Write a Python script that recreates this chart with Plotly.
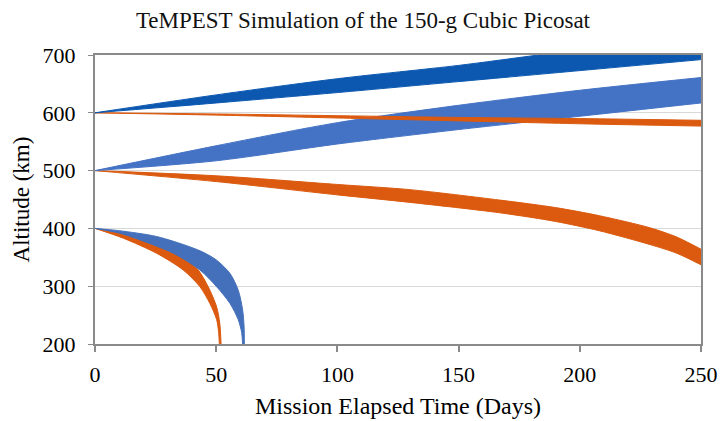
import plotly.graph_objects as go

# ---- data ----
# dark blue band, start 600 km (rising)
db_up_days = [0, 50, 100, 150, 183, 250]
db_up_alt = [600, 631, 659, 682, 700, 735]
db_lo_days = [0, 50, 100, 150, 200, 250]
db_lo_alt = [600, 617, 635, 654, 673, 692]

# orange band, start 600 km (slow decay)
o6_up_days = [0, 50, 100, 150, 200, 250]
o6_up_alt = [600, 598, 595, 592, 590, 587]
o6_lo_days = [0, 50, 100, 150, 200, 250]
o6_lo_alt = [600, 596, 591, 586, 581, 577]

# medium blue band, start 500 km (rising)
mb_up_days = [0, 50, 100, 150, 200, 250]
mb_up_alt = [500, 543, 583, 613, 639, 661]
mb_lo_days = [0, 50, 100, 150, 200, 250]
mb_lo_alt = [500, 517, 546, 571, 594, 617]

# orange band, start 500 km (decay)
o5_up_days = [0, 50, 100, 130, 167, 190, 208, 229, 240, 250]
o5_up_alt = [500, 491, 476, 467, 449, 436, 422, 401, 385, 364]
o5_lo_days = [0, 50, 100, 130, 167, 190, 208, 229, 240, 250]
o5_lo_alt = [500, 481, 458, 445, 427, 412, 396, 372, 357, 337]

# blue decay band, start 400 km
bd_up_days = [0, 10, 25.4, 39.2, 45, 50.2, 55.7, 59.1, 60.9, 61.5, 61.6]
bd_up_alt = [400, 396, 386, 368, 358, 345, 322, 293, 259, 230, 200]
bd_lo_days = [0, 10, 18.6, 32.3, 43.3, 50.2, 55.7, 59.1, 60.5, 60.9]
bd_lo_alt = [400, 392, 380, 357, 328, 299, 270, 242, 220, 200]

# orange decay band, start 400 km
od_up_days = [0, 10, 18.6, 32.3, 42.0, 46.7, 50.2, 51.5, 52.0]
od_up_alt = [400, 393, 383, 360, 331, 299, 264, 235, 200]
od_lo_days = [0, 11.7, 25.4, 36.4, 43.3, 47.4, 50.2, 51.0, 51.3]
od_lo_alt = [400, 383, 357, 328, 299, 270, 242, 220, 200]

x_ticks = [0, 50, 100, 150, 200, 250]
y_ticks = [200, 300, 400, 500, 600, 700]

TITLE = "TeMPEST Simulation of the 150-g Cubic Picosat"
X_TITLE = "Mission Elapsed Time (Days)"
Y_TITLE = "Altitude (km)"

DARK_BLUE = "#0c58b0"
MED_BLUE = "#4472c4"
ORANGE = "#db5a0f"
DECAY_BLUE = "#4470bb"

fig = go.Figure()


def band(xl, yl, xu, yu, color):
    fig.add_trace(go.Scatter(
        x=xl, y=yl, mode="lines",
        line=dict(color=color, width=1, shape="spline", smoothing=0.8),
        hoverinfo="skip", showlegend=False))
    fig.add_trace(go.Scatter(
        x=xu, y=yu, mode="lines", fill="tonexty", fillcolor=color,
        line=dict(color=color, width=1, shape="spline", smoothing=0.8),
        hoverinfo="skip", showlegend=False))


band(od_lo_days, od_lo_alt, od_up_days, od_up_alt, ORANGE)
band(bd_lo_days, bd_lo_alt, bd_up_days, bd_up_alt, DECAY_BLUE)
band(o5_lo_days, o5_lo_alt, o5_up_days, o5_up_alt, ORANGE)
band(mb_lo_days, mb_lo_alt, mb_up_days, mb_up_alt, MED_BLUE)
band(o6_lo_days, o6_lo_alt, o6_up_days, o6_up_alt, ORANGE)
band(db_lo_days, db_lo_alt, db_up_days, db_up_alt, DARK_BLUE)

serif = "Liberation Serif, Times New Roman, serif"

fig.update_layout(
    width=723, height=421,
    margin=dict(l=95, r=22, t=55, b=77),
    paper_bgcolor="white", plot_bgcolor="white",
    font=dict(family=serif, color="#000000", size=22),
    title=dict(text=TITLE,
               x=0.502, xanchor="center", y=0.953, yanchor="middle",
               font=dict(family=serif, size=23, color="#111111")),
    xaxis=dict(range=[0, 250], tickvals=x_ticks, showgrid=False,
               showline=True, linecolor="#8a8a8a", linewidth=2, mirror=True,
               ticks="outside", ticklen=6, tickcolor="#8a8a8a", tickwidth=1.5,
               ticklabelstandoff=4, automargin=False,
               zeroline=False),
    yaxis=dict(range=[200, 700], tickvals=y_ticks, showgrid=True,
               gridcolor="#d9d9d9", gridwidth=1,
               showline=True, linecolor="#8a8a8a", linewidth=2, mirror=True,
               ticks="outside", ticklen=5, tickcolor="#8a8a8a",
               ticklabelstandoff=8, automargin=False,
               zeroline=False),
    annotations=[
        dict(text=X_TITLE, xref="paper", yref="paper", x=0.5, y=-0.215,
             xanchor="center", yanchor="middle", showarrow=False,
             font=dict(family=serif, size=24, color="#000000")),
        dict(text=Y_TITLE, xref="paper", yref="paper", x=-0.1205, y=0.5,
             xanchor="center", yanchor="middle", showarrow=False,
             textangle=-90,
             font=dict(family=serif, size=23, color="#000000")),
    ],
)

fig.write_html("out.html")
